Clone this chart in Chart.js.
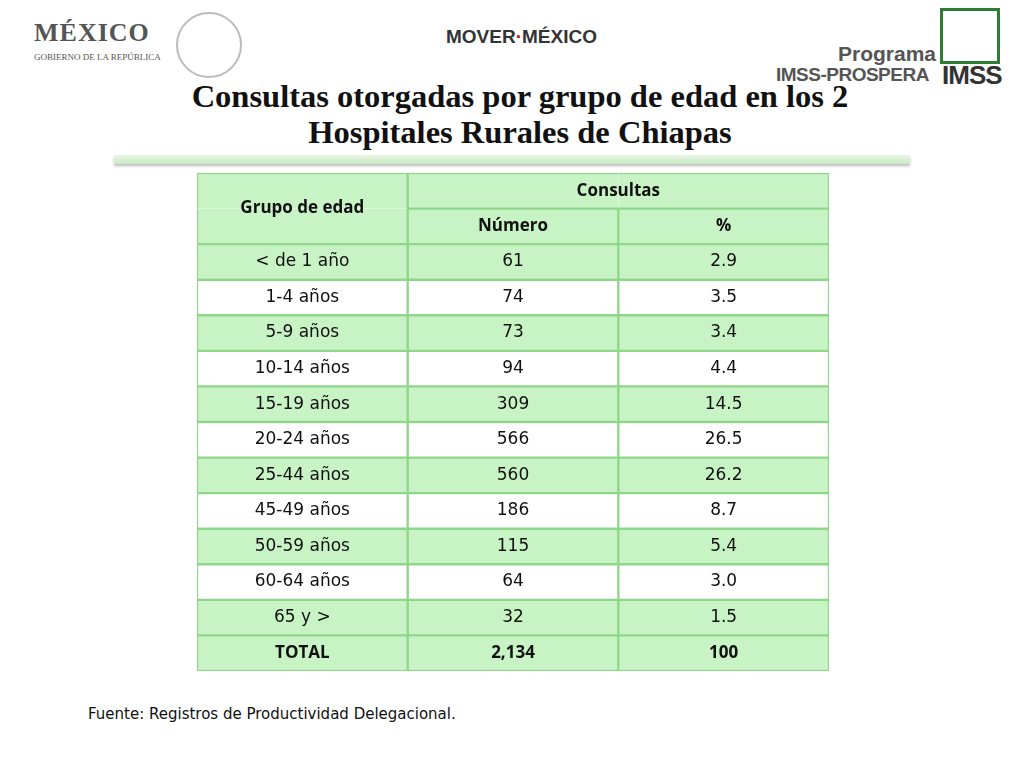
<!DOCTYPE html>
<html><head><meta charset="utf-8">
<script src="https://cdn.jsdelivr.net/npm/chart.js@4/dist/chart.umd.min.js"></script>
<style>
body{margin:0;width:1024px;height:768px;background:#fff;position:relative;overflow:hidden;font-family:"DejaVu Sans",sans-serif}
.t{position:absolute;white-space:nowrap}
</style></head><body>
<div class="t" style="left:34px;top:18px;font:bold 26px 'Liberation Serif';color:#555;letter-spacing:1px">MÉXICO</div>
<div class="t" style="left:34px;top:52px;font:9px 'Liberation Serif';color:#555">GOBIERNO DE LA REPÚBLICA</div>
<div class="t" style="left:176px;top:12px;width:62px;height:62px;border-radius:50%;border:2px solid #bbb"></div>
<div class="t" style="left:446px;top:26px;font:bold 19px 'Liberation Sans';color:#333">MOVER<span style="color:#c00">·</span>MÉXICO</div>
<div class="t" style="left:838px;top:42px;font:bold 21px 'Liberation Sans';color:#555">Programa</div>
<div class="t" style="left:776px;top:64px;font:bold 19px 'Liberation Sans';color:#555;letter-spacing:-0.5px">IMSS-PROSPERA</div>
<div class="t" style="left:942px;top:60px;font:bold 26px 'Liberation Sans';color:#333;letter-spacing:-1px">IMSS</div>
<div class="t" style="left:940px;top:8px;width:54px;height:50px;border:3px solid #2e7d32"></div>
<div class="t" style="left:0;width:1040px;top:78px;text-align:center;font:bold 32.5px 'Liberation Serif';line-height:36px;color:#111">Consultas otorgadas por grupo de edad en los 2<br>Hospitales Rurales de Chiapas</div>
<div class="t" style="left:114px;top:155px;width:796px;height:9px;background:linear-gradient(#eaf7e8,#c9e9c4);box-shadow:0 2px 3px #bbb"></div>
<div class="t" style="left:88px;top:705px;font:15px 'DejaVu Sans';color:#111">Fuente: Registros de Productividad Delegacional.</div>
<div style="position:absolute;left:196px;top:172px;width:634px;height:500px"><canvas id="c"></canvas></div>
<script>
const groups=["< de 1 año","1-4 años","5-9 años","10-14 años","15-19 años","20-24 años","25-44 años","45-49 años","50-59 años","60-64 años","65 y >","TOTAL"];
const numero=["61","74","73","94","309","566","560","186","115","64","32","2,134"];
const pct=["2.9","3.5","3.4","4.4","14.5","26.5","26.2","8.7","5.4","3.0","1.5","100"];
const rowLabels=["h1","h2"].concat(groups);
const shaded=[true,true,true,false,true,false,true,false,true,false,true,false,true,true];
const G="#c8f3c4",B="#8fd68a";
function ds(col){
  return {data:rowLabels.map(()=>[col,col+1]),
    backgroundColor:rowLabels.map((r,i)=>shaded[i]?G:"#fff"),
    borderColor:B,borderSkipped:false,
    borderWidth:ctx=>{const i=ctx.dataIndex;
      if(col===0&&i===0)return{top:1.5,left:1.5,right:1.5,bottom:0};
      if(col===0&&i===1)return{top:0,left:1.5,right:1.5,bottom:1.5};
      if(i===0&&col===1)return{top:1.5,left:1.5,bottom:1.5,right:0};
      if(i===0&&col===2)return{top:1.5,right:1.5,bottom:1.5,left:0};
      return 1.5;}};
}
const textPlugin={id:"txt",afterDatasetsDraw(ch){
  const c=ch.ctx,x=ch.scales.x,y=ch.scales.y;
  const cx=k=>x.getPixelForValue(k+0.5);
  c.save();c.fillStyle="#111";c.textAlign="center";c.textBaseline="middle";
  c.font="bold 17px 'Open Sans'";
  c.fillText("Grupo de edad",cx(0),(y.getPixelForValue(0)+y.getPixelForValue(1))/2);
  c.fillText("Consultas",(cx(1)+cx(2))/2,y.getPixelForValue(0));
  c.fillText("Número",cx(1),y.getPixelForValue(1));
  c.fillText("%",cx(2),y.getPixelForValue(1));
  groups.forEach((g,i)=>{const yy=y.getPixelForValue(i+2);const b=i===groups.length-1;
    c.font=b?"bold 17px 'Open Sans'":"17px 'DejaVu Sans'";
    c.fillText(g,cx(0),yy);c.fillText(numero[i],cx(1),yy);c.fillText(pct[i],cx(2),yy);});
  c.restore();}};
new Chart(document.getElementById("c"),{type:"bar",
  data:{labels:rowLabels,datasets:[ds(0),ds(1),ds(2)]},
  options:{indexAxis:"y",responsive:true,maintainAspectRatio:false,animation:false,
    layout:{padding:1},
    datasets:{bar:{barPercentage:1,categoryPercentage:1,grouped:false}},
    plugins:{legend:{display:false},tooltip:{enabled:false},title:{display:false}},
    scales:{x:{type:"linear",min:0,max:3,display:false},y:{type:"category",display:false}}},
  plugins:[textPlugin]});
</script>
</body></html>
